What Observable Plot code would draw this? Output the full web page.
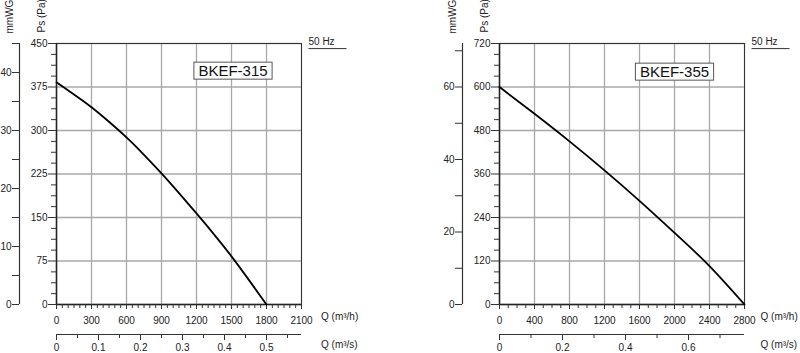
<!DOCTYPE html>
<html><head><meta charset="utf-8">
<script src="https://cdn.jsdelivr.net/npm/d3@7"></script>
<script src="https://cdn.jsdelivr.net/npm/@observablehq/plot@0.6"></script>
<style>
html,body{margin:0;padding:0;background:#fff;}
#wrap{position:relative;width:800px;height:353px;overflow:hidden;}
#wrap svg{position:absolute;top:0;overflow:visible;}
</style></head><body><div id="wrap"></div>
<script>
// ---- texts ----
const models = ["BKEF-315", "BKEF-355"];
const freqLabel = "50 Hz";
const yTitlePa = "Ps (Pa)";
const yTitleMm = "mmWG";
const xTitleH = "Q (m³/h)";
const xTitleS = "Q (m³/s)";

// ---- BKEF-315 data ----
const q315  = [0, 150, 300, 450, 600, 750, 900, 1050, 1200, 1350, 1500, 1650, 1800];
const ps315 = [383, 362, 340, 315, 288, 258, 226, 192, 157, 121, 83, 42, 0];
const xMajor315 = [0, 300, 600, 900, 1200, 1500, 1800, 2100];
const yMajor315 = [0, 75, 150, 225, 300, 375, 450];
const mmMajor315 = [0, 10, 20, 30, 40];
const mmMinor315 = [5, 15, 25, 35, 45];
const qsMajor315 = [0, 0.1, 0.2, 0.3, 0.4, 0.5];
const qsMinor315 = [0.05, 0.15, 0.25, 0.35, 0.45, 0.55];

// ---- BKEF-355 data ----
const q355  = [0, 400, 800, 1200, 1600, 2000, 2400, 2800];
const ps355 = [600, 526, 450, 370, 286, 198, 106, 0];
const xMajor355 = [0, 400, 800, 1200, 1600, 2000, 2400, 2800];
const yMajor355 = [0, 120, 240, 360, 480, 600, 720];
const mmMajor355 = [0, 20, 40, 60];
const mmMinor355 = [10, 30, 50, 70];
const qsMajor355 = [0, 0.2, 0.4, 0.6];
const qsMinor355 = [0.1, 0.3, 0.5, 0.7];

const configs = [
  {left: 0, model: models[0], q: q315, ps: ps315, xMax: 2100, yMax: 450,
   xMajor: xMajor315, xMinorStep: 50, yMajor: yMajor315, yMinorStep: 18.75,
   mmMajor: mmMajor315, mmMinor: mmMinor315, qsMajor: qsMajor315, qsMinor: qsMinor315,
   boxDx: -68.5, boxDy: 22, xTitleDx: 19.5},
  {left: 443, model: models[1], q: q355, ps: ps355, xMax: 2800, yMax: 720,
   xMajor: xMajor355, xMinorStep: 100, yMajor: yMajor355, yMinorStep: 30,
   mmMajor: mmMajor355, mmMinor: mmMinor355, qsMajor: qsMajor355, qsMinor: qsMinor355,
   boxDx: -70, boxDy: 23, xTitleDx: 16}
];

const wrap = document.getElementById("wrap");
const FONT = "'Liberation Sans', Arial, Helvetica, sans-serif";
const plain = d => String(d);

for (const c of configs) {
  const xMinor = d3.range(0, c.xMax + 1e-9, c.xMinorStep).filter(v => !c.xMajor.includes(v));
  const yMinor = d3.range(0, c.yMax + 1e-9, c.yMinorStep).filter(v => !c.yMajor.some(m => Math.abs(m - v) < 1e-6));
  const fmtQs = d => String(+(d / 3600).toFixed(2));
  const plot = Plot.plot({
    width: 357, height: 353,
    marginLeft: 56, marginRight: 56, marginTop: 43, marginBottom: 49,
    x: {domain: [0, c.xMax]},
    y: {domain: [0, c.yMax]},
    style: {fontFamily: FONT, fontSize: "10px", color: "#222", background: "transparent", overflow: "visible"},
    marks: [
      Plot.gridX(c.xMajor, {stroke: "#a8a8a8", strokeOpacity: 1, strokeWidth: 1.3}),
      Plot.gridY(c.yMajor, {stroke: "#a8a8a8", strokeOpacity: 1, strokeWidth: 1.3}),
      Plot.frame({stroke: "#333", strokeWidth: 1}),
      Plot.ruleX([0], {stroke: "#222", strokeWidth: 1.5}),
      Plot.ruleY([0], {stroke: "#222", strokeWidth: 1.5}),
      // main Pa axis
      Plot.axisY(yMinor, {tickSize: 5, tickFormat: () => "", label: null, stroke: "#333"}),
      Plot.axisY(c.yMajor, {tickSize: 8, tickPadding: 1, tickFormat: plain, label: null, stroke: "#333", fill: "#222"}),
      // mmWG axis
      Plot.ruleX([0], {dx: -37, stroke: "#333", strokeWidth: 1.2}),
      Plot.axisY(c.mmMinor.map(v => v * 10), {dx: -37, tickSize: 7, tickFormat: () => "", label: null, stroke: "#333"}),
      Plot.axisY(c.mmMajor.map(v => v * 10), {dx: -37, tickSize: 7, tickPadding: 1, tickFormat: d => String(d / 10), label: null, stroke: "#333", fill: "#222"}),
      // main Q m3/h axis
      Plot.axisX(xMinor, {tickSize: 4, tickFormat: () => "", label: null, stroke: "#333"}),
      Plot.axisX(c.xMajor, {tickSize: 5, tickPadding: 7, tickFormat: plain, label: null, stroke: "#333", fill: "#222"}),
      // Q m3/s axis
      Plot.ruleY([0], {dy: 30, stroke: "#333", strokeWidth: 1.2}),
      Plot.axisX(c.qsMinor.map(v => v * 3600), {dy: 30, tickSize: 4, tickFormat: () => "", label: null, stroke: "#333"}),
      Plot.axisX(c.qsMajor.map(v => v * 3600), {dy: 30, tickSize: 6, tickPadding: 3, tickFormat: fmtQs, label: null, stroke: "#333", fill: "#222"}),
      // curve
      Plot.line(c.q, {x: c.q, y: c.ps, curve: "natural", stroke: "#000", strokeWidth: 1.8}),
      // axis titles
      Plot.text([yTitlePa], {frameAnchor: "top-left", dx: -18.3, dy: -11, rotate: -90, textAnchor: "start", fill: "#222", fontSize: 10}),
      Plot.text([yTitleMm], {frameAnchor: "top-left", dx: -50.5, dy: -10, rotate: -90, textAnchor: "start", fill: "#222", fontSize: 10}),
      Plot.text([xTitleH], {frameAnchor: "bottom-right", dx: c.xTitleDx, dy: 15, textAnchor: "start", fill: "#222", fontSize: 10}),
      Plot.text([xTitleS], {frameAnchor: "bottom-right", dx: c.xTitleDx, dy: 43, textAnchor: "start", fill: "#222", fontSize: 10}),
      Plot.text([freqLabel], {frameAnchor: "top-right", dx: 7, dy: -5.5, textAnchor: "start", fill: "#222", fontSize: 10}),
      Plot.text([c.model], {frameAnchor: "top-right", dx: c.boxDx, dy: c.boxDy, textAnchor: "middle", fill: "#111", fontSize: 15})
    ]
  });
  plot.style.left = c.left + "px";
  wrap.appendChild(plot);

  const ns = "http://www.w3.org/2000/svg";
  const texts = Array.from(plot.querySelectorAll("text"));
  const findText = s => texts.find(t => t.textContent === s);
  const copyTransforms = (src, dst) => {
    // compose transforms of the text element and its parent group
    const parentT = src.parentNode.getAttribute("transform");
    const ownT = src.getAttribute("transform");
    const tr = [parentT, ownT].filter(Boolean).join(" ");
    if (tr) dst.setAttribute("transform", tr);
  };
  // box behind model label
  const mt = findText(c.model);
  if (mt) {
    const bb = mt.getBBox();
    const r = document.createElementNS(ns, "rect");
    r.setAttribute("x", bb.x - 4.5);
    r.setAttribute("y", bb.y + bb.height / 2 - 8.5);
    r.setAttribute("width", bb.width + 9);
    r.setAttribute("height", 17);
    r.setAttribute("fill", "#fff");
    r.setAttribute("stroke", "#555");
    r.setAttribute("stroke-width", 1);
    copyTransforms(mt, r);
    const t2 = mt.cloneNode(true);
    copyTransforms(mt, t2);
    const g = document.createElementNS(ns, "g");
    g.setAttribute("font-size", "15");
    g.setAttribute("text-anchor", "middle");
    g.setAttribute("fill", "#111");
    g.appendChild(r);
    g.appendChild(t2);
    mt.parentNode.removeChild(mt);
    plot.appendChild(g);
  }
  // underline for frequency label
  const ft = findText(freqLabel);
  if (ft) {
    const bb = ft.getBBox();
    const l = document.createElementNS(ns, "line");
    l.setAttribute("x1", bb.x);
    l.setAttribute("x2", bb.x + 38);
    l.setAttribute("y1", bb.y + bb.height + 1.5);
    l.setAttribute("y2", bb.y + bb.height + 1.5);
    l.setAttribute("stroke", "#333");
    l.setAttribute("stroke-width", 1);
    copyTransforms(ft, l);
    plot.appendChild(l);
  }
}
</script></body></html>
